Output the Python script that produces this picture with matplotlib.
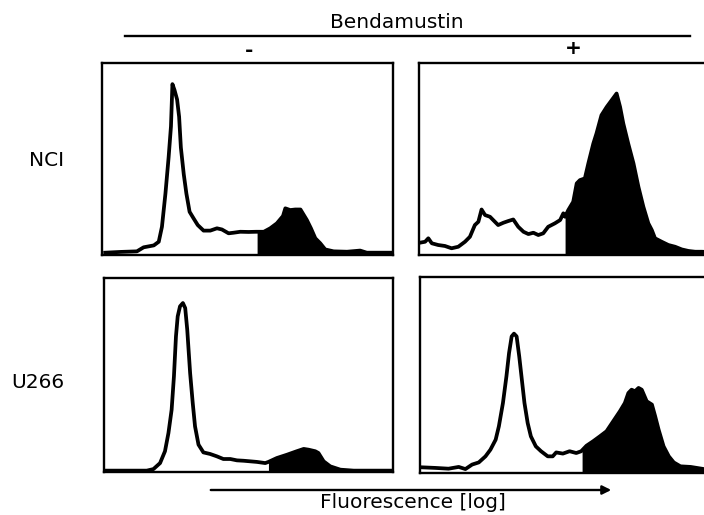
import numpy as np
import matplotlib
matplotlib.use("Agg")
import matplotlib.pyplot as plt
from matplotlib.patches import FancyArrowPatch
from matplotlib.lines import Line2D

plt.rcParams["font.family"] = ["DejaVu Sans"]

# ---- histogram data (channel, event count) ----
nci_ctrl_ch = [11, 63, 120, 143, 178, 195, 206, 218, 229, 237, 242, 249, 258, 265, 271, 281, 290,
               301, 315, 329, 349, 372, 395, 412, 435, 452, 475, 504, 530, 556, 578, 601, 622,
               630, 647, 664, 682, 690, 704, 718, 733, 750, 767, 796, 842, 887, 910, 991]
nci_ctrl_ct = [1.2, 1.6, 1.9, 4.0, 5.0, 6.9, 14.7, 32, 51, 67, 89, 86, 81, 72, 56, 42, 32,
               22.5, 19, 15.6, 12.7, 12.7, 13.9, 13.3, 11.3, 11.6, 12.1, 12, 12.1, 12.1, 13.9, 16.5, 20.3,
               24.3, 23.4, 23.7, 23.7, 21.7, 18.2, 13.9, 8.7, 6.1, 2.9, 1.9, 1.7, 2.3, 1.2, 1.2]
nci_ctrl_gate = 533

nci_benda_ch = [3, 21, 32, 44, 66, 89, 112, 135, 158, 175, 192, 204, 215, 227, 244, 255, 272,
                290, 307, 324, 341, 359, 376, 393, 410, 427, 444, 467, 485, 496, 502, 513, 530,
                542, 553, 570, 582, 599, 610, 627, 645, 662, 679, 691, 702, 719, 737, 754, 771,
                788, 800, 811, 834, 857, 880, 903, 926, 949, 972, 1000]
nci_benda_ct = [6.4, 6.9, 8.7, 6.1, 5.2, 4.7, 3.5, 4.3, 6.9, 9.5, 15.6, 17.3, 23.7, 20.8, 19.9, 18.2, 15.6,
                16.8, 17.7, 18.5, 14.7, 12.1, 10.9, 11.6, 10.4, 11.3, 14.7, 16.5, 18.2, 21.7, 19.9, 23.4, 27.7,
                37.3, 39, 39.9, 47.7, 58, 63.3, 72.8, 77.1, 80.6, 84.1, 77.1, 68.5, 58, 47.7, 35.5, 25.1,
                16.5, 13, 8.7, 6.9, 5.2, 4.3, 2.9, 2.1, 1.7, 1.7, 1.5]
nci_benda_gate = 502

u266_ctrl_ch = [9, 79, 148, 171, 194, 211, 223, 234, 242, 249, 255, 263, 273, 281, 288, 298, 307,
                315, 327, 344, 367, 390, 413, 437, 460, 483, 506, 529, 558, 569, 598, 633, 667,
                691, 708, 731, 742, 760, 783, 818, 864, 910, 991]
u266_ctrl_ct = [0.7, 0.7, 0.7, 1.5, 4.6, 10.7, 20.1, 32.1, 49.3, 69.9, 80.2, 85.4, 87.1, 84.5, 73.4, 51, 35.6,
                23.5, 14.1, 10.1, 9.3, 8.1, 6.7, 6.7, 6, 5.8, 5.5, 5.2, 4.6, 5.2, 7.2, 8.9, 10.7,
                11.9, 11.5, 10.7, 9.8, 5.5, 2.9, 1.2, 0.7, 0.7, 0.7]
u266_ctrl_gate = 569

u266_benda_ch = [6, 52, 98, 133, 156, 179, 202, 225, 242, 260, 271, 285, 297, 306, 315, 323, 332,
                 341, 350, 359, 370, 381, 398, 416, 439, 456, 468, 491, 514, 537, 554, 572, 595,
                 618, 641, 664, 687, 704, 716, 727, 739, 751, 762, 779, 797, 808, 820, 837, 855,
                 872, 895, 930, 976, 1000]
u266_benda_ct = [2.9, 2.6, 2.2, 3.1, 2.0, 4.3, 5.4, 8.5, 11.9, 17, 23.8, 35.7, 49.3, 61.2, 69.7, 71.1, 69.7,
                 59.5, 47.6, 35.7, 25.5, 18.7, 13.6, 11.1, 8.5, 8.5, 10.5, 9.9, 11.1, 10.2, 11.1, 13.9, 16.2,
                 18.7, 21.3, 26.4, 31.5, 35.7, 40.8, 42.5, 41.7, 43.4, 42.5, 36.6, 34.9, 29, 22.1, 13.6, 8.5,
                 5.4, 3.4, 3.1, 2.0, 2.0]
u266_benda_gate = 557

row_labels = ["NCI", "U266"]
col_labels = ["-", "+"]
treatment_label = "Bendamustin"
x_label = "Fluorescence [log]"

W, H = 704, 515
fig = plt.figure(figsize=(W / 100, H / 100), dpi=100)


def box(left, top, right, bottom):
    return [left / W, 1 - bottom / H, (right - left) / W, (bottom - top) / H]


def px(x, y):
    return x / W, 1 - y / H


panels = [
    (box(102, 63, 393, 255), nci_ctrl_ch, nci_ctrl_ct, nci_ctrl_gate),
    (box(419, 63, 710, 255), nci_benda_ch, nci_benda_ct, nci_benda_gate),
    (box(104, 278, 393, 472), u266_ctrl_ch, u266_ctrl_ct, u266_ctrl_gate),
    (box(420, 277, 711, 473), u266_benda_ch, u266_benda_ct, u266_benda_gate),
]

for rect, ch, ct, gate in panels:
    ax = fig.add_axes(rect)
    ch = np.asarray(ch, float)
    ct = np.asarray(ct, float)
    g_ct = np.interp(gate, ch, ct)
    mask = ch > gate
    fx = np.concatenate([[gate], ch[mask]])
    fy = np.concatenate([[g_ct], ct[mask]])
    ax.fill_between(fx, 0, fy, color="black", lw=0)
    ax.plot(ch, ct, color="black", lw=2.7, solid_joinstyle="round")
    ax.set_xlim(0, 1000)
    ax.set_ylim(0, 100)
    ax.set_xticks([])
    ax.set_yticks([])
    for s in ax.spines.values():
        s.set_linewidth(1.7)

fs = 14.5

# header
fig.text(*px(397, 23), treatment_label, ha="center", va="center", fontsize=fs)
fig.add_artist(Line2D([125 / W, 690 / W], [1 - 36 / H, 1 - 36 / H], color="black", lw=1.7,
                      transform=fig.transFigure))
fig.text(*px(249, 51), col_labels[0], ha="center", va="center", fontsize=fs, fontweight="bold")
fig.text(*px(573, 49), col_labels[1], ha="center", va="center", fontsize=fs, fontweight="bold")

# row labels
fig.text(*px(47, 160), row_labels[0], ha="center", va="center", fontsize=fs)
fig.text(*px(38, 382), row_labels[1], ha="center", va="center", fontsize=fs)

# x direction arrow
fig.add_artist(FancyArrowPatch(px(208, 490), px(614, 490), transform=fig.transFigure,
                               arrowstyle="-|>", mutation_scale=13, color="black", lw=1.7))
fig.text(*px(413, 503), x_label, ha="center", va="center", fontsize=fs)

fig.savefig("out.png", dpi=100)
